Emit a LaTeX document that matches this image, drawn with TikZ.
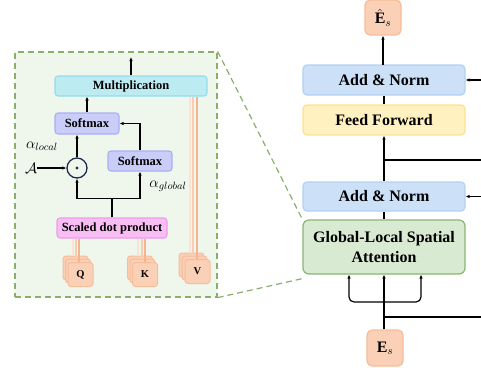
\RequirePackage{fix-cm}
\documentclass[tikz,border=0pt]{standalone}
\usepackage{fontspec}
\setmainfont{Liberation Serif}
\usetikzlibrary{arrows.meta,calc}
\definecolor{insetfill}{HTML}{EFF6EC}
\definecolor{insetdraw}{HTML}{8AAF6A}
\definecolor{anfill}{HTML}{CCE0F7}
\definecolor{andraw}{HTML}{B3D1F2}
\definecolor{fffill}{HTML}{FFF2C0}
\definecolor{ffdraw}{HTML}{FFE08F}
\definecolor{glfill}{HTML}{D9EAD2}
\definecolor{gldraw}{HTML}{8BB574}
\definecolor{pfill}{HTML}{FAD0B6}
\definecolor{pdraw}{HTML}{F6BD9A}
\definecolor{mfill}{HTML}{BDEBF2}
\definecolor{mdraw}{HTML}{93DDEE}
\definecolor{sfill}{HTML}{CACDF7}
\definecolor{sdraw}{HTML}{A9AEF3}
\definecolor{dfill}{HTML}{F8BEF3}
\definecolor{ddraw}{HTML}{F09AEA}
\definecolor{odotc}{HTML}{1F2D4D}
\definecolor{lineA}{HTML}{FBE3D4}
\definecolor{lineB}{HTML}{F8CDB3}
\definecolor{lineC}{HTML}{F4B48E}
\tikzset{
  bigbox/.style={rounded corners=4pt, line width=1.2pt, minimum width=162pt, inner sep=0pt, align=center, font=\fontsize{16}{19}\selectfont\bfseries},
  smallbox/.style={rounded corners=3pt, line width=1.1pt, inner sep=0pt, align=center, font=\fontsize{12.5}{15}\selectfont\bfseries},
  qkvbox/.style={rounded corners=3pt, line width=1pt, fill=pfill, draw=pdraw, minimum width=25pt, minimum height=24pt, inner sep=0pt, font=\fontsize{10.5}{12}\selectfont\bfseries},
  arr/.style={line width=1.2pt, -{Latex[length=4pt,width=3.5pt]}},
  plain/.style={line width=1.2pt},
  zoomline/.style={insetdraw, line width=1.2pt, dash pattern=on 6pt off 4pt},
  la/.style={lineA, line width=1.1pt},
  lb/.style={lineB, line width=1.1pt},
  lc/.style={lineC, line width=1.1pt},
  mathlabel/.style={font=\fontsize{15}{18}\selectfont, inner sep=0pt},
}
\begin{document}
\begin{tikzpicture}[x=1pt,y=-1pt]
\useasboundingbox (0,0) rectangle (481,367);

% inset
\node[draw=insetdraw, fill=insetfill, line width=1.2pt, dash pattern=on 6pt off 4pt, minimum width=202pt, minimum height=245pt, inner sep=0pt] (inset) at (116,174.5) {};

% right column
\node[bigbox, fill=pfill, draw=pdraw, minimum width=36pt, minimum height=35pt, rounded corners=5pt, font=\fontsize{16}{19}\selectfont] (eh) at (383,17.5) {$\hat{\mathbf{E}}_s$};
\node[bigbox, fill=anfill, draw=andraw, minimum height=30pt] (an2) at (384,80) {Add \& Norm};
\node[bigbox, fill=fffill, draw=ffdraw, minimum height=30pt] (ff) at (384,120) {Feed Forward};
\node[bigbox, fill=anfill, draw=andraw, minimum height=29pt] (an1) at (384,196.5) {Add \& Norm};
\node[bigbox, fill=glfill, draw=gldraw, minimum height=54pt, rounded corners=6pt] (glsa) at (384,247) {Global-Local Spatial\\[1pt]Attention};
\node[bigbox, fill=pfill, draw=pdraw, minimum width=36pt, minimum height=36pt, rounded corners=5pt, font=\fontsize{16}{19}\selectfont] (es) at (385,348) {$\mathbf{E}_s$};

\draw[zoomline] (inset.north east) -- (glsa.north west);
\draw[zoomline] (inset.south east) -- ([yshift=-4pt]glsa.south west);

\coordinate (br) at (384,302);
\coordinate (r1) at (481,317);
\coordinate (r2) at (481,160);
\coordinate (r3) at (481,80);
\coordinate (r4) at (481,196.5);
\draw[arr] (es.north -| glsa.south) -- (glsa.south);
\draw[arr, rounded corners=5pt] (br) -| ([xshift=-35pt]glsa.south);
\draw[arr, rounded corners=5pt] (br) -| ([xshift=37pt]glsa.south);
\draw[plain] (br |- r1) -- (r1);
\draw[plain] (glsa.north) -- (an1.south);
\draw[arr] (an1.north) -- (ff.south);
\draw[plain] (ff.south |- r2) -- (r2);
\draw[plain] (ff.north) -- (an2.south);
\draw[arr] (an2.north) -- (an2.north -| eh.south) -- (eh.south);
\draw[arr] (r3) -- (an2.east);
\draw[arr] (r4) -- (an1.east);

% inset content
\node[smallbox, fill=mfill, draw=mdraw, minimum width=152pt, minimum height=20pt] (mult) at (131,86) {Multiplication};
\node[smallbox, fill=sfill, draw=sdraw, minimum width=64pt, minimum height=21pt] (sm1) at (87,123.5) {Softmax};
\node[smallbox, fill=sfill, draw=sdraw, minimum width=64pt, minimum height=20pt] (sm2) at (140,161) {Softmax};
\node[smallbox, fill=dfill, draw=ddraw, minimum width=110pt, minimum height=20pt] (sdp) at (112,228) {Scaled dot product};
\node[circle, draw=odotc, line width=1.3pt, minimum size=20pt, inner sep=0pt] (odot) at (77,168) {};
\fill[odotc] (odot.center) circle (1.6pt);
\node[mathlabel] (A) at (31,168) {$\mathcal{A}$};
\node[mathlabel] (al) at (42,146) {$\alpha_{local}$};
\node[mathlabel] (ag) at (168,186) {$\alpha_{global}$};
\coordinate (mo) at (131,57);

\draw[arr] (mult.north) -- (mo);
\draw[arr] (sm1.north) -- (sm1.north |- mult.south);
\draw[arr] (sm2.north) |- (sm1.east);
\draw[arr] (odot.north) -- (odot.north |- sm1.south);
\draw[arr] (A.east) -- (odot.west);
\draw[arr] (sdp.north) -- ++(0,-19) -| (odot.south);
\draw[arr] (sdp.north) -- ++(0,-19) -| (sm2.south);

% stacks
\node[qkvbox] (q1) at (75.5,268) {};
\node[qkvbox] (q2) at (78,271) {};
\node[qkvbox] (q3) at (80.5,274.5) {Q};
\node[qkvbox] (k1) at (140,268) {};
\node[qkvbox] (k2) at (142.5,271) {};
\node[qkvbox] (k3) at (145,274.5) {K};
\node[qkvbox] (v1) at (191.5,265) {};
\node[qkvbox] (v2) at (194.5,268) {};
\node[qkvbox] (v3) at (197.5,271.5) {V};

\draw[la] ([xshift=-2.5pt]q1.north) -- ([xshift=-2.5pt]q1.north |- sdp.south);
\draw[lb] ([xshift=-2pt]q2.north) -- ([xshift=-2pt]q2.north |- sdp.south);
\draw[lc] ([xshift=-1.5pt]q3.north) -- ([xshift=-1.5pt]q3.north |- sdp.south);
\draw[la] ([xshift=-2pt]k1.north) -- ([xshift=-2pt]k1.north |- sdp.south);
\draw[lb] ([xshift=-0.5pt]k2.north) -- ([xshift=-0.5pt]k2.north |- sdp.south);
\draw[lc] (k3.north) -- (k3.north |- sdp.south);
\draw[la] ([xshift=-1.5pt]v1.north) -- ([xshift=-1.5pt]v1.north |- mult.south);
\draw[lb] ([xshift=-1.5pt]v2.north) -- ([xshift=-1.5pt]v2.north |- mult.south);
\draw[lc] ([xshift=-0.5pt]v3.north) -- ([xshift=-0.5pt]v3.north |- mult.south);
\end{tikzpicture}
\end{document}
